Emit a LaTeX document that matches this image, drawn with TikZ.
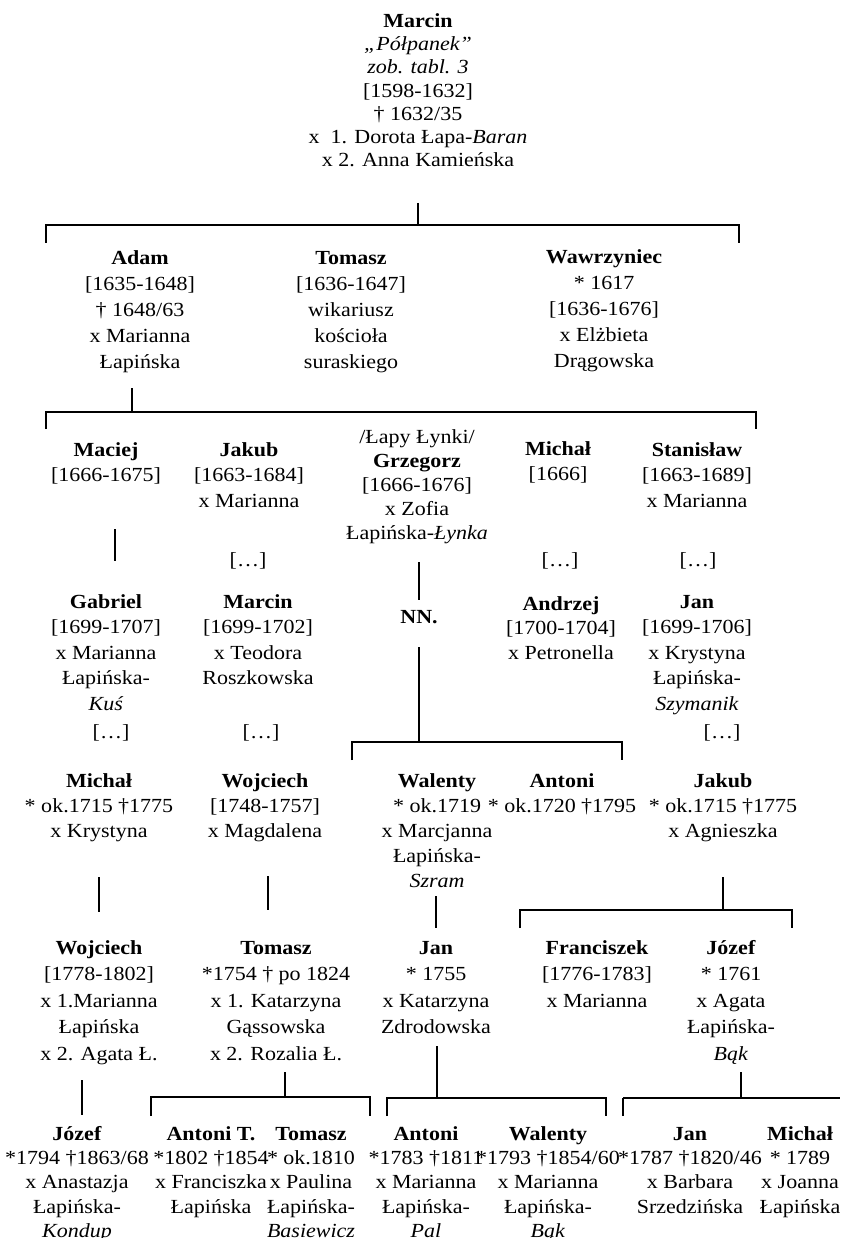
\documentclass[tikz,border=0pt]{standalone}
\usepackage{fontspec}
\setmainfont{Liberation Serif}[FakeStretch=1.1]
\tikzset{
  pnode/.style={anchor=north, inner sep=0pt, align=center},
  link/.style={line width=1.6pt, line cap=butt},
}
% #1 baselineskip, #2 name, #3 x centre, #4 first baseline, #5 text
\newcommand\pp[5][25.5]{\node[pnode, font=\fontsize{20}{#1}\selectfont] (#2) at (#3,#4-16) {\rule{0pt}{16pt}#5};}
% bracket: #1 name, #2 x parent, #3 y top, #4 y bar, #5 x left, #6 x right, #7 y tick end
\newcommand\brk[7]{%
  \coordinate (#1t) at (#2,#3); \coordinate (#1j) at (#2,#4);
  \coordinate (#1l) at (#5,#4); \coordinate (#1r) at (#6,#4);
  \coordinate (#1lt) at (#5,#7); \coordinate (#1rt) at (#6,#7);
  \draw[link] (#1t) -- (#1j);
  \draw[link] (#1lt) -- (#1l) -- (#1r) -- (#1rt);}
% single descent line: #1 name, #2 x, #3 y1, #4 y2
\newcommand\vln[4]{%
  \coordinate (#1a) at (#2,#3); \coordinate (#1b) at (#2,#4);
  \draw[link] (#1a) -- (#1b);}
\begin{document}
\begin{tikzpicture}[x=1pt,y=-1pt]
\fill[white] (0,0) rectangle (840,1238);
\useasboundingbox (0,0) rectangle (840,1238);

% generation 1
\pp[23.3]{top}{418}{27}{\textbf{Marcin}\\\textit{„Półpanek”}\\\textit{zob. tabl. 3}\\{[1598-1632]}\\† 1632/35\\x\ \ 1. Dorota Łapa-\textit{Baran}\\x 2. Anna Kamieńska}
\brk{b0}{418}{203}{225}{46}{739}{243}

% generation 2
\pp[26]{adam}{140}{264}{\textbf{Adam}\\{[1635-1648]}\\† 1648/63\\x Marianna\\Łapińska}
\pp[26]{tomasz1}{351}{264}{\textbf{Tomasz}\\{[1636-1647]}\\wikariusz\\kościoła\\suraskiego}
\pp[26]{wawrz}{604}{263}{\textbf{Wawrzyniec}\\* 1617\\{[1636-1676]}\\x Elżbieta\\Drągowska}
\brk{b1}{132}{388}{412}{46}{756}{429}

% generation 3
\pp{maciej}{106}{456}{\textbf{Maciej}\\{[1666-1675]}}
\pp{jakub1}{249}{456}{\textbf{Jakub}\\{[1663-1684]}\\x Marianna}
\pp[24]{grzeg}{417}{443}{/Łapy Łynki/\\\textbf{Grzegorz}\\{[1666-1676]}\\x Zofia\\Łapińska-\textit{Łynka}}
\pp{michal1}{558}{455}{\textbf{Michał}\\{[1666]}}
\pp{stan}{697}{456}{\textbf{Stanisław}\\{[1663-1689]}\\x Marianna}
\pp{e1}{248}{566}{[…]}
\pp{e2}{560}{566}{[…]}
\pp{e3}{698}{566}{[…]}
\vln{l1}{115}{529}{561}
\vln{l2}{419}{562}{600}

% generation 4
\pp{gabriel}{106}{608}{\textbf{Gabriel}\\{[1699-1707]}\\x Marianna\\Łapińska-\\\textit{Kuś}}
\pp{marcin2}{258}{608}{\textbf{Marcin}\\{[1699-1702]}\\x Teodora\\Roszkowska}
\pp{nn}{419}{623}{\textbf{NN.}}
\pp[24.5]{andrzej}{561}{610}{\textbf{Andrzej}\\{[1700-1704]}\\x Petronella}
\pp{jan1}{697}{608}{\textbf{Jan}\\{[1699-1706]}\\x Krystyna\\Łapińska-\\\textit{Szymanik}}
\pp{e4}{111}{738}{[…]}
\pp{e5}{261}{738}{[…]}
\pp{e6}{722}{738}{[…]}
\brk{b2}{419}{647}{742}{352}{622}{760}

% generation 5
\pp[25]{michal2}{99}{787}{\textbf{Michał}\\* ok.1715 †1775\\x Krystyna}
\pp[25]{wojc1}{265}{787}{\textbf{Wojciech}\\{[1748-1757]}\\x Magdalena}
\pp[25]{walenty1}{437}{787}{\textbf{Walenty}\\* ok.1719\\x Marcjanna\\Łapińska-\\\textit{Szram}}
\pp[25]{antoni1}{562}{787}{\textbf{Antoni}\\* ok.1720 †1795}
\pp[25]{jakub2}{723}{787}{\textbf{Jakub}\\* ok.1715 †1775\\x Agnieszka}
\vln{l3}{99}{877}{912}
\vln{l4}{268}{876}{910}
\vln{l5}{436}{896}{928}
\brk{b3}{723}{877}{910}{520}{792}{928}

% generation 6
\pp[26.5]{wojc2}{99}{954}{\textbf{Wojciech}\\{[1778-1802]}\\x 1.Marianna\\Łapińska\\x 2. Agata Ł.}
\pp[26.5]{tomasz2}{276}{954}{\textbf{Tomasz}\\*1754 † po 1824\\x 1. Katarzyna\\Gąssowska\\x 2. Rozalia Ł.}
\pp[26.5]{jan2}{436}{954}{\textbf{Jan}\\* 1755\\x Katarzyna\\Zdrodowska}
\pp[26.5]{franc}{597}{954}{\textbf{Franciszek}\\{[1776-1783]}\\x Marianna}
\pp[26.5]{jozef1}{731}{954}{\textbf{Józef}\\* 1761\\x Agata\\Łapińska-\\\textit{Bąk}}
\vln{l6}{82}{1080}{1115}
\brk{b4}{285}{1072}{1097}{151}{370}{1116}
\brk{b5}{437}{1046}{1098}{387}{606}{1116}
\brk{b6}{741}{1072}{1098}{623}{840}{1098}
\vln{l7}{623}{1098}{1116}

% generation 7
\pp[24.3]{jozef2}{77}{1140}{\textbf{Józef}\\*1794 †1863/68\\x Anastazja\\Łapińska-\\\textit{Kondup}}
\pp[24.3]{antoniT}{211}{1140}{\textbf{Antoni T.}\\*1802 †1854\\x Franciszka\\Łapińska}
\pp[24.3]{tomasz3}{311}{1140}{\textbf{Tomasz}\\* ok.1810\\x Paulina\\Łapińska-\\\textit{Basiewicz}}
\pp[24.3]{antoni2}{426}{1140}{\textbf{Antoni}\\*1783 †1811\\x Marianna\\Łapińska-\\\textit{Pal}}
\pp[24.3]{walenty2}{548}{1140}{\textbf{Walenty}\\*1793 †1854/60\\x Marianna\\Łapińska-\\\textit{Bąk}}
\pp[24.3]{jan3}{690}{1140}{\textbf{Jan}\\*1787 †1820/46\\x Barbara\\Srzedzińska}
\pp[24.3]{michal3}{800}{1140}{\textbf{Michał}\\* 1789\\x Joanna\\Łapińska}
\end{tikzpicture}
\end{document}
